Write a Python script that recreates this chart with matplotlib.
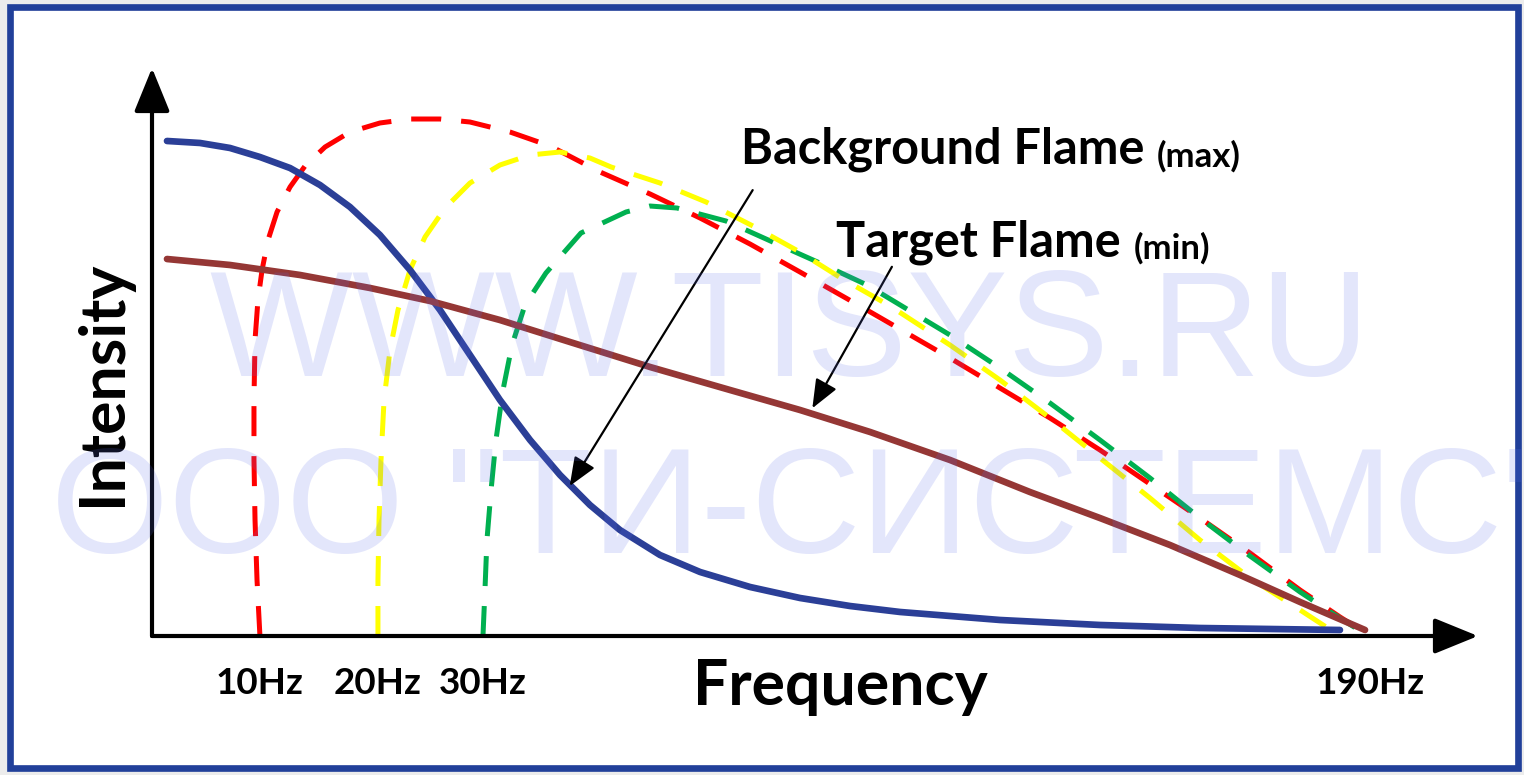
import matplotlib.pyplot as plt
from matplotlib.patches import Rectangle

# schematic frequency position (0-100 along the axis) and intensity (0-100)
blue_x = [1.13, 3.62, 5.88, 8.14, 10.41, 12.67, 14.93, 17.19, 19.46, 21.72, 23.98, 26.24, 28.51, 30.77,
          33.03, 35.29, 38.31, 41.33, 45.10, 48.87, 52.64, 56.41, 63.95, 71.49, 79.03, 89.59]
blue_y = [87.15, 86.80, 85.92, 84.33, 82.39, 79.40, 75.53, 70.60, 64.44, 57.39, 49.47, 41.55, 34.51, 28.35,
          23.06, 18.66, 14.26, 11.27, 8.63, 6.69, 5.28, 4.23, 2.82, 1.94, 1.41, 1.06]

brown_x = [1.13, 5.88, 11.16, 16.44, 20.97, 26.24, 31.52, 37.56, 43.59, 48.87, 54.15, 60.18, 66.21,
           71.49, 76.77, 82.05, 86.58, 91.48]
brown_y = [66.37, 65.32, 63.56, 61.27, 58.98, 55.63, 51.76, 47.36, 43.31, 39.79, 35.92, 30.99, 25.35,
           20.77, 16.02, 10.74, 5.99, 1.06]

red_x = [8.14, 7.92, 7.77, 7.69, 7.69, 7.77, 7.99, 8.30, 8.75, 9.43, 10.41, 11.54, 13.05, 14.93, 17.19,
         19.46, 21.72, 23.98, 27.00, 30.02, 33.79, 37.56, 41.33, 45.10, 48.87, 53.39, 60.18, 67.72,
         71.49, 75.26, 79.03, 82.81, 86.58, 89.59, 91.86]
red_y = [0, 9.86, 20.42, 30.99, 41.55, 52.11, 59.15, 64.44, 69.72, 74.65, 79.05, 82.75, 86.09, 88.73,
         90.32, 91.02, 91.02, 90.49, 88.73, 86.27, 81.69, 77.82, 73.59, 69.01, 64.08, 58.10, 48.94, 38.38,
         32.75, 26.76, 20.77, 14.61, 8.10, 3.35, 0]

yellow_x = [17.04, 17.04, 17.12, 17.27, 17.50, 17.95, 18.55, 19.46, 20.59, 22.10, 23.98, 26.24, 28.51,
            30.77, 33.03, 34.62, 38.31, 41.78, 45.32, 48.72, 51.96, 55.66, 60.18, 63.95, 67.72, 71.49,
            75.26, 79.03, 82.81, 86.58, 89.59]
yellow_y = [0, 9.86, 20.42, 30.99, 41.55, 50.35, 57.39, 64.44, 70.25, 75.35, 79.75, 82.92, 84.68, 85.21,
            84.15, 82.57, 79.75, 76.41, 72.18, 67.78, 63.03, 58.10, 51.23, 45.07, 38.38, 31.34, 24.30,
            16.90, 10.21, 4.58, 0]

green_x = [24.96, 25.11, 25.26, 25.57, 25.94, 26.47, 27.15, 28.13, 29.71, 32.35, 35.75, 37.56, 39.59,
           43.29, 46.98, 50.53, 53.92, 60.18, 63.95, 67.72, 71.49, 75.26, 79.03, 82.81, 86.58, 89.22, 91.25]
green_y = [0, 8.10, 16.90, 25.70, 34.51, 43.31, 51.23, 58.27, 63.91, 70.95, 74.65, 75.70, 75.35, 73.06,
           69.19, 65.49, 61.80, 52.99, 47.18, 41.02, 34.51, 27.82, 20.77, 14.08, 7.75, 3.70, 0.70]

tick_labels = ['10Hz', '20Hz', '30Hz', '190Hz']
tick_pos = [red_x[0], yellow_x[0], green_x[0], red_x[-1]]

FONT = ['Lato', 'DejaVu Sans']

fig = plt.figure(figsize=(15.24, 7.75), dpi=100)
fig.patch.set_facecolor('#ECECEC')
fig.patches.append(Rectangle((10 / 1524, 7 / 775), 1508 / 1524, 761 / 775, transform=fig.transFigure,
                             facecolor='white', edgecolor='#21409A', lw=4.8, zorder=-5))

ax = fig.add_axes([152 / 1524, 139 / 775, 1326 / 1524, 568 / 775])
ax.set_xlim(0, 100)
ax.set_ylim(0, 100)
ax.axis('off')

# axes with arrow heads
arrow_kw = dict(arrowstyle='-|>,head_length=1.35,head_width=0.55', lw=3, color='black',
                shrinkA=0, shrinkB=0, mutation_scale=20)
ax.annotate('', xy=(100, 0), xytext=(0, 0), arrowprops=arrow_kw, zorder=5)
ax.annotate('', xy=(0, 100), xytext=(0, 0), arrowprops=arrow_kw, zorder=5)

# curves
ax.plot(blue_x, blue_y, color='#2B3F97', lw=4.8, solid_capstyle='round', solid_joinstyle='round', zorder=3)
ax.plot(brown_x, brown_y, color='#953735', lw=4.8, solid_capstyle='round', solid_joinstyle='round', zorder=3)
dash = (0, (6, 4))
ax.plot(red_x, red_y, color='#FF0000', lw=3.6, ls=dash, zorder=2)
ax.plot(yellow_x, yellow_y, color='#FFFF00', lw=3.6, ls=dash, zorder=2.2)
ax.plot(green_x, green_y, color='#00B050', lw=3.6, ls=dash, zorder=2.1)

# annotations
pointer = dict(arrowstyle='-|>,head_length=1.1,head_width=0.45', lw=1.6, color='black',
               shrinkA=0, shrinkB=0, mutation_scale=16)
ax.annotate('', xy=(31.5, 26.4), xytext=(45.3, 78.5), arrowprops=pointer, zorder=6)
ax.annotate('', xy=(49.8, 40.1), xytext=(55.8, 65.0), arrowprops=pointer, zorder=6)

t1 = ax.text(44.4, 83.1, 'Background Flame', fontsize=35, fontweight='bold', family=FONT,
             ha='left', va='baseline', zorder=6)
ax.annotate('(max)', xy=(1, 0), xycoords=t1, xytext=(9, 0), textcoords='offset points',
            fontsize=25, fontweight='bold', family=FONT, ha='left', va='bottom')
t2 = ax.text(51.6, 66.9, 'Target Flame', fontsize=35, fontweight='bold', family=FONT,
             ha='left', va='baseline', zorder=6)
ax.annotate('(min)', xy=(1, 0), xycoords=t2, xytext=(9, 0), textcoords='offset points',
            fontsize=25, fontweight='bold', family=FONT, ha='left', va='bottom')

for xp, lab in zip(tick_pos, tick_labels):
    ax.text(xp, -8.3, lab, fontsize=26.5, fontweight='bold', family=FONT, ha='center', va='center',
            clip_on=False)

ax.text(51.9, -12.15, 'Frequency', fontsize=45, fontweight='bold', family=FONT, ha='center',
        va='baseline', clip_on=False)
ax.text(-3.7, 44.5, 'Intensity', fontsize=45, fontweight='bold', family=FONT, rotation=90,
        ha='center', va='center', clip_on=False)

# watermark
wm = dict(fontsize=109, color='#5B6BEB', alpha=0.17, family=['Liberation Sans', 'DejaVu Sans'],
          va='center', zorder=10)
fig.text(790 / 1524, 1 - 337 / 775, 'WWW.TISYS.RU', ha='center', **wm)
fig.text(51 / 1524, 1 - 514 / 775, 'ООО "ТИ-СИСТЕМС"', ha='left', **wm)

fig.savefig('out.png', dpi=100, facecolor=fig.get_facecolor())
